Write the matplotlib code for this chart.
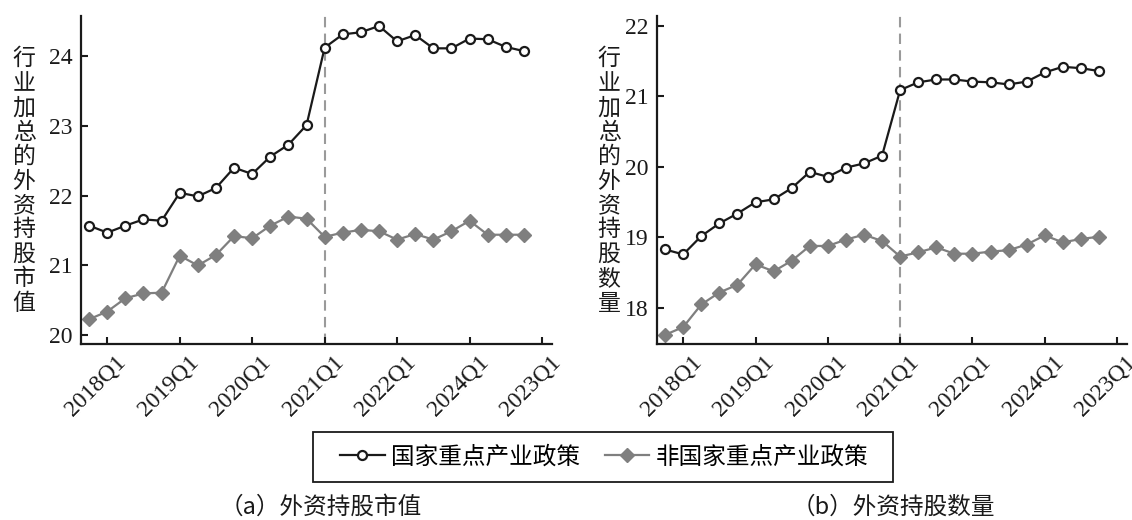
import numpy as np
import matplotlib.pyplot as plt
from matplotlib.lines import Line2D
from matplotlib.patches import Rectangle
from matplotlib.transforms import ScaledTranslation

plt.rcParams['font.family'] = ['Liberation Serif', 'DejaVu Serif', 'Noto Sans CJK SC']

# 季度序号 0..24，刻度标签按原图
quarters = np.arange(25)
tick_pos = [1, 5, 9, 13, 17, 21, 25]
tick_labels = ['2018Q1', '2019Q1', '2020Q1', '2021Q1', '2022Q1', '2024Q1', '2023Q1']
policy_idx = 13

# (a) 外资持股市值
mv_key = [21.57, 21.47, 21.57, 21.66, 21.64, 22.04, 21.99, 22.11, 22.40, 22.31,
          22.56, 22.73, 23.01, 24.12, 24.31, 24.34, 24.43, 24.21, 24.30, 24.11,
          24.11, 24.25, 24.24, 24.13, 24.07]
mv_non = [20.23, 20.34, 20.53, 20.60, 20.61, 21.14, 21.00, 21.15, 21.42, 21.39,
          21.57, 21.70, 21.67, 21.41, 21.47, 21.51, 21.49, 21.37, 21.45, 21.37,
          21.49, 21.64, 21.44, 21.44, 21.44]

# (b) 外资持股数量
num_key = [18.83, 18.76, 19.02, 19.20, 19.34, 19.50, 19.54, 19.70, 19.93, 19.86,
           19.99, 20.05, 20.16, 21.09, 21.20, 21.24, 21.24, 21.21, 21.20, 21.17,
           21.21, 21.34, 21.42, 21.40, 21.36]
num_non = [17.62, 17.73, 18.05, 18.22, 18.33, 18.62, 18.52, 18.67, 18.88, 18.88,
           18.97, 19.04, 18.95, 18.73, 18.79, 18.86, 18.77, 18.77, 18.80, 18.82,
           18.90, 19.03, 18.93, 18.98, 19.01]

black = '#1a1a1a'
gray = '#7f7f7f'
cjk = ['Noto Sans CJK SC', 'DejaVu Sans']
serif = 'Liberation Serif'

fig = plt.figure(figsize=(11.32, 5.2), dpi=100)
ax1 = fig.add_axes([81 / 1132, 176 / 520, 471 / 1132, 328 / 520])
ax2 = fig.add_axes([657 / 1132, 176 / 520, 470 / 1132, 328 / 520])


def draw(ax, key, non, ylim, yticks, ylabel, label_x):
    ax.plot(quarters, key, color=black, lw=1.6, marker='o', ms=6.5,
            mfc='white', mec=black, mew=1.6, zorder=3)
    ax.plot(quarters, non, color=gray, lw=1.6, marker='D', ms=7,
            mfc=gray, mec=gray, zorder=2)
    ax.axvline(policy_idx, color='#9a9a9a', lw=1.5, ls=(0, (5, 3)), zorder=1)
    ax.set_xlim(-0.45, 25.55)
    ax.set_ylim(*ylim)
    ax.set_yticks(yticks)
    ax.set_yticklabels([str(v) for v in yticks], fontfamily=serif)
    ax.set_xticks(tick_pos)
    ax.set_xticklabels([])
    # 斜放的刻度标签，略向右下偏移
    shift = ScaledTranslation(0.08, -0.07, fig.dpi_scale_trans)
    for pos, lab in zip(tick_pos, tick_labels):
        ax.text(pos, 0, lab, transform=ax.get_xaxis_transform() + shift,
                rotation=45, ha='right', va='top', rotation_mode='anchor',
                fontsize=17, fontfamily=serif, color=black, clip_on=False)
    for s in ['top', 'right']:
        ax.spines[s].set_visible(False)
    for s in ['left', 'bottom']:
        ax.spines[s].set_linewidth(1.6)
        ax.spines[s].set_color(black)
    ax.tick_params(direction='in', length=5, width=1.5, labelsize=17,
                   pad=6, colors=black)
    fig.text(label_x / 1132, 1 - 181 / 520, '\n'.join(ylabel), ha='center',
             va='center', fontsize=16.5, family=cjk, linespacing=1.08,
             color=black)


draw(ax1, mv_key, mv_non, (19.875, 24.573), [20, 21, 22, 23, 24],
     '行业加总的外资持股市值', 24)
draw(ax2, num_key, num_non, (17.49, 22.14), [18, 19, 20, 21, 22],
     '行业加总的外资持股数量', 609)

handles = [
    Line2D([], [], color=black, lw=1.6, marker='o', ms=6.5, mfc='white',
           mec=black, mew=1.6),
    Line2D([], [], color=gray, lw=1.6, marker='D', ms=7, mfc=gray, mec=gray),
]
fig.legend(handles, ['国家重点产业政策', '非国家重点产业政策'], ncol=2,
           loc='center', bbox_to_anchor=(604 / 1132, 1 - 457 / 520),
           prop={'family': cjk, 'size': 17}, frameon=False,
           handlelength=1.9, handletextpad=0.25, columnspacing=1.05)
fig.add_artist(Rectangle((313 / 1132, 1 - 482 / 520), 580 / 1132, 50 / 520,
                         transform=fig.transFigure, fill=False,
                         edgecolor=black, lw=1.3))

fig.text(321 / 1132, 1 - 507 / 520, '（a）外资持股市值', ha='center', va='center',
         fontsize=17, family=cjk, color=black)
fig.text(893 / 1132, 1 - 507 / 520, '（b）外资持股数量', ha='center', va='center',
         fontsize=17, family=cjk, color=black)

fig.savefig('out.png', dpi=100)
